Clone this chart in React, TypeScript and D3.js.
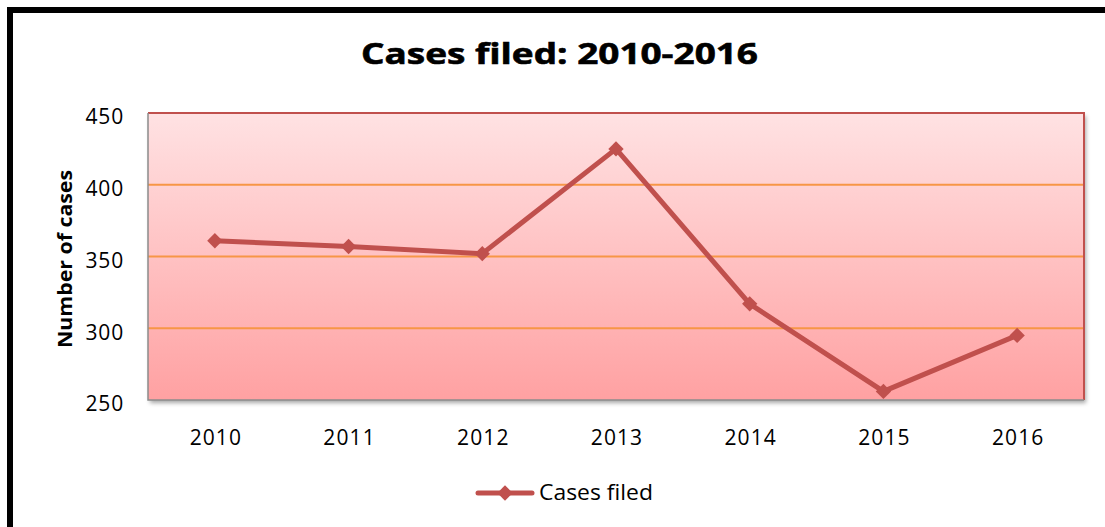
import * as d3 from "d3";
import React, { useRef, useEffect } from "react";

const years = ["2010", "2011", "2012", "2013", "2014", "2015", "2016"];
const casesFiled = [361, 357, 352, 425, 317, 256, 295];
const yTicks = [250, 300, 350, 400, 450];

export default function App() {
  const svgRef = useRef<SVGSVGElement>(null);

  useEffect(() => {
    const width = 1105;
    const height = 527;
    const plot = { left: 148, top: 113, right: 1084, bottom: 400 };
    const font = "Open Sans, sans-serif";

    const svg = d3.select(svgRef.current).attr("width", width).attr("height", height);
    svg.selectAll("*").remove();

    const defs = svg.append("defs");
    const grad = defs
      .append("linearGradient")
      .attr("id", "bg")
      .attr("x1", 0)
      .attr("y1", 0)
      .attr("x2", 0)
      .attr("y2", 1);
    grad.append("stop").attr("offset", "0%").attr("stop-color", "#FFE2E3");
    grad.append("stop").attr("offset", "100%").attr("stop-color", "#FFA1A2");
    const shadow = defs.append("filter").attr("id", "shadow").attr("x", "-5%").attr("y", "-5%").attr("width", "110%").attr("height", "110%");
    shadow
      .append("feDropShadow")
      .attr("dx", 2)
      .attr("dy", 3)
      .attr("stdDeviation", 2)
      .attr("flood-color", "#000")
      .attr("flood-opacity", 0.35);

    svg.append("rect").attr("width", width).attr("height", height).attr("fill", "#fff");
    // outer black frame (runs off the right and bottom edges)
    svg
      .append("rect")
      .attr("x", 10)
      .attr("y", 10)
      .attr("width", width)
      .attr("height", height)
      .attr("fill", "none")
      .attr("stroke", "#000")
      .attr("stroke-width", 6);

    const x = d3.scaleBand().domain(years).range([plot.left, plot.right]);
    const y = d3.scaleLinear().domain([250, 450]).range([plot.bottom, plot.top]);

    svg
      .append("rect")
      .attr("x", plot.left)
      .attr("y", plot.top)
      .attr("width", plot.right - plot.left)
      .attr("height", plot.bottom - plot.top)
      .attr("fill", "url(#bg)")
      .attr("filter", "url(#shadow)");

    svg
      .append("g")
      .selectAll("line")
      .data(yTicks.filter((t) => t > 250 && t < 450))
      .enter()
      .append("line")
      .attr("x1", plot.left)
      .attr("x2", plot.right)
      .attr("y1", (d) => y(d))
      .attr("y2", (d) => y(d))
      .attr("stroke", "#F79646")
      .attr("stroke-width", 2);

    // plot border: red top/right, gray left/bottom
    svg
      .append("path")
      .attr("d", `M${plot.left},${plot.top}H${plot.right}V${plot.bottom}`)
      .attr("fill", "none")
      .attr("stroke", "#C0504D")
      .attr("stroke-width", 2);
    svg
      .append("path")
      .attr("d", `M${plot.left},${plot.top}V${plot.bottom}H${plot.right}`)
      .attr("fill", "none")
      .attr("stroke", "#8c8c8c")
      .attr("stroke-width", 1.5);

    svg
      .append("g")
      .selectAll("text")
      .data(yTicks)
      .enter()
      .append("text")
      .attr("x", plot.left - 24)
      .attr("y", (d) => y(d) + 4)
      .attr("dy", "0.35em")
      .attr("text-anchor", "end")
      .attr("font-family", font)
      .attr("font-size", 21)
      .attr("letter-spacing", 0.8)
      .text((d) => d);

    svg
      .append("g")
      .selectAll("text")
      .data(years)
      .enter()
      .append("text")
      .attr("x", (d) => x(d)! + x.bandwidth() / 2 + 1)
      .attr("y", 445)
      .attr("text-anchor", "middle")
      .attr("font-family", font)
      .attr("font-size", 21)
      .attr("letter-spacing", 1.1)
      .text((d) => d);

    const cx = (d: string) => x(d)! + x.bandwidth() / 2;
    const line = d3
      .line<number>()
      .x((d, i) => cx(years[i]))
      .y((d) => y(d));

    svg
      .append("path")
      .datum(casesFiled)
      .attr("d", line)
      .attr("fill", "none")
      .attr("stroke", "#C0504D")
      .attr("stroke-width", 5)
      .attr("stroke-linejoin", "round");

    const diamond = d3.symbol().type(d3.symbolDiamond2).size(150);
    svg
      .append("g")
      .selectAll("path")
      .data(casesFiled)
      .enter()
      .append("path")
      .attr("d", diamond)
      .attr("transform", (d, i) => `translate(${cx(years[i])},${y(d)})`)
      .attr("fill", "#C0504D");

    svg
      .append("text")
      .attr("x", 361)
      .attr("y", 64)
      .attr("font-family", font)
      .attr("font-weight", "bold")
      .attr("font-size", 29)
      .attr("stroke", "#000")
      .attr("stroke-width", 0.6)
      .attr("textLength", 397)
      .attr("lengthAdjust", "spacingAndGlyphs")
      .text("Cases filed: 2010-2016");

    svg
      .append("text")
      .attr("transform", `translate(72,348) rotate(-90)`)
      .attr("font-family", font)
      .attr("font-weight", "bold")
      .attr("font-size", 20)
      .attr("textLength", 178)
      .attr("lengthAdjust", "spacingAndGlyphs")
      .text("Number of cases");

    const legend = svg.append("g").attr("transform", "translate(478,493)");
    legend
      .append("line")
      .attr("x1", 0)
      .attr("x2", 54)
      .attr("stroke", "#C0504D")
      .attr("stroke-width", 5)
      .attr("stroke-linecap", "round");
    legend.append("path").attr("d", diamond).attr("transform", "translate(27,0)").attr("fill", "#C0504D");
    legend
      .append("text")
      .attr("x", 61)
      .attr("dy", "0.35em")
      .attr("font-family", font)
      .attr("font-size", 21)
      .attr("textLength", 114)
      .attr("lengthAdjust", "spacingAndGlyphs")
      .text("Cases filed");
  }, []);

  return <svg ref={svgRef} style={{ position: "absolute", left: 0, top: 0 }}></svg>;
}
